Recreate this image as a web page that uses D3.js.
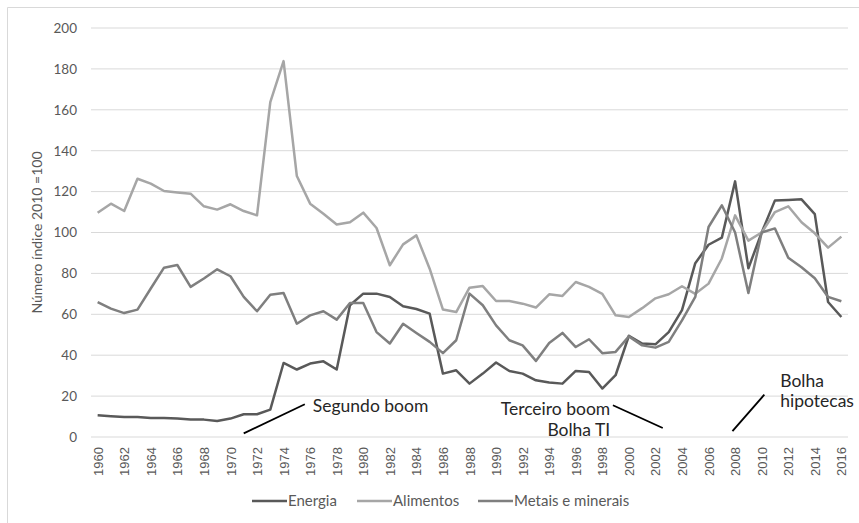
<!DOCTYPE html>
<html>
<head>
<meta charset="utf-8">
<script src="https://cdn.jsdelivr.net/npm/d3@7"></script>
<style>
  body { margin: 0; background: #fff; }
  svg text { font-family: Lato, "Open Sans", sans-serif; fill: #595959; }
</style>
</head>
<body>
<div id="chart"></div>
<script>
// Years on the category axis
var years = d3.range(1960, 2017);

// Series values (index 2010 = 100)
var energia = [10.6, 10.2, 9.8, 9.8, 9.3, 9.3, 9.0, 8.5, 8.5, 7.8,
  9.0, 11.1, 11.1, 13.4, 36.2, 33.0, 35.9, 37.0, 33.0, 64.4,
  70.1, 70.1, 68.5, 63.9, 62.6, 60.3, 31.0, 32.6, 26.1, 31.0,
  36.4, 32.3, 31.0, 27.7, 26.6, 26.1, 32.3, 31.8, 23.7, 30.2,
  49.5, 45.7, 45.3, 51.3, 62.0, 85.0, 94.0, 97.5, 125.0, 82.5,
  100, 115.7, 115.9, 116.2, 109.0, 66.0, 58.7];

var alimentos = [109.7, 114.1, 110.5, 126.3, 123.9, 120.3, 119.6, 119.0, 112.8, 111.2,
  113.8, 110.5, 108.4, 163.7, 183.8, 127.6, 114.1, 109.2, 103.9, 105.0,
  109.7, 102.2, 84.0, 94.2, 98.6, 82.3, 62.3, 61.1, 73.0, 73.8,
  66.5, 66.5, 65.2, 63.3, 69.8, 69.0, 75.8, 73.4, 70.0, 59.5,
  58.7, 63.0, 67.8, 69.8, 73.7, 70.0, 75.0, 87.3, 108.4, 96.0,
  100, 110.0, 112.8, 105.0, 99.6, 92.6, 98.0];

var metais = [66.0, 62.8, 60.6, 62.3, 72.6, 82.8, 84.1, 73.4, 77.5, 82.0,
  78.6, 68.5, 61.5, 69.6, 70.4, 55.4, 59.5, 61.5, 57.4, 65.5,
  65.5, 51.3, 45.7, 55.4, 50.9, 46.5, 41.0, 47.3, 70.1, 64.4,
  54.6, 47.3, 44.8, 37.2, 46.0, 50.9, 44.0, 47.8, 41.0, 41.6,
  49.2, 44.8, 43.7, 46.5, 57.0, 68.5, 102.7, 113.3, 100.0, 70.4,
  100, 102.0, 87.7, 83.0, 77.6, 68.5, 66.4];

var seriesNames = ["Energia", "Alimentos", "Metais e minerais"];
var seriesColors = ["#595959", "#a6a6a6", "#7f7f7f"];
var yTicks = [0, 20, 40, 60, 80, 100, 120, 140, 160, 180, 200];
var xTickYears = d3.range(1960, 2017, 2);

// Annotations, in data units (year, value)
var annLines = [
  [[1971.0, 1.8], [1975.6, 16.0]],
  [[1998.8, 15.5], [2002.55, 4.4]],
  [[2007.8, 2.9], [2010.2, 20.7]]
];
var annTexts = [
  {year: 1976.2, value: 12.0, text: "Segundo boom", anchor: "start"},
  {year: 1998.6, value: 11.0, text: "Terceiro boom", anchor: "end"},
  {year: 1998.6, value: 0.3, text: "Bolha TI", anchor: "end"},
  {year: 2011.4, value: 24.3, text: "Bolha", anchor: "start"},
  {year: 2011.4, value: 14.5, text: "hipotecas", anchor: "start"}
];

var W = 859, H = 523;
var plot = {left: 91, right: 848, top: 28, bottom: 437};

var svg = d3.select("#chart").append("svg")
  .attr("width", W)
  .attr("height", H);

// outer frame (only top and left edges are inside the picture)
svg.append("path")
  .attr("d", "M7.5," + H + "V7.5H" + W)
  .attr("fill", "none")
  .attr("stroke", "#d9d9d9");

var x = d3.scalePoint().domain(years).range([plot.left, plot.right]).padding(0.5);
var y = d3.scaleLinear().domain([0, 200]).range([plot.bottom, plot.top]);

// continuous year scale for annotations
var xc = d3.scaleLinear().domain([1960, 2016]).range([x(1960), x(2016)]);

// gridlines
svg.append("g")
  .selectAll("line")
  .data(yTicks)
  .enter().append("line")
  .attr("x1", plot.left).attr("x2", plot.right)
  .attr("y1", function(d) { return y(d); })
  .attr("y2", function(d) { return y(d); })
  .attr("stroke", "#d9d9d9")
  .attr("stroke-width", 1);

// Y axis labels
var yAxis = svg.append("g")
  .attr("transform", "translate(" + (plot.left - 14) + ",0)")
  .call(d3.axisLeft(y).tickValues(yTicks).tickSize(0).tickPadding(0));
yAxis.select(".domain").remove();
yAxis.selectAll("text")
  .style("font-size", "13.5px")
  .attr("fill", "#595959");

// X axis labels (rotated)
var xAxis = svg.append("g")
  .attr("transform", "translate(0," + (plot.bottom + 10) + ")")
  .call(d3.axisBottom(x).tickValues(xTickYears).tickSize(0).tickPadding(0));
xAxis.select(".domain").remove();
xAxis.selectAll("text")
  .style("font-size", "13px")
  .style("font-family", "'Liberation Sans', Arial, sans-serif")
  .attr("fill", "#595959")
  .attr("transform", "rotate(-90)")
  .attr("text-anchor", "end")
  .attr("x", 0)
  .attr("y", 0)
  .attr("dy", "0.35em");

// Y axis title
svg.append("text")
  .attr("transform", "translate(42," + ((plot.top + plot.bottom) / 2) + ") rotate(-90)")
  .attr("text-anchor", "middle")
  .style("font-size", "14px")
  .text("Número índice 2010 =100");

// Lines
var line = d3.line()
  .x(function(d, i) { return x(years[i]); })
  .y(function(d) { return y(d); });

[energia, alimentos, metais].forEach(function(s, i) {
  svg.append("path")
    .datum(s)
    .attr("fill", "none")
    .attr("stroke", seriesColors[i])
    .attr("stroke-width", 2.5)
    .attr("stroke-linejoin", "round")
    .attr("d", line);
});

// Annotations
svg.append("g")
  .selectAll("line")
  .data(annLines)
  .enter().append("line")
  .attr("x1", function(d) { return xc(d[0][0]); })
  .attr("y1", function(d) { return y(d[0][1]); })
  .attr("x2", function(d) { return xc(d[1][0]); })
  .attr("y2", function(d) { return y(d[1][1]); })
  .attr("stroke", "#000")
  .attr("stroke-width", 1.8);

svg.append("g")
  .selectAll("text")
  .data(annTexts)
  .enter().append("text")
  .attr("x", function(d) { return xc(d.year); })
  .attr("y", function(d) { return y(d.value); })
  .attr("text-anchor", function(d) { return d.anchor; })
  .style("font-size", "17.5px")
  .style("fill", "#262626")
  .text(function(d) { return d.text; });

// Legend
var legendX = [252, 357, 478];
var legend = svg.append("g")
  .selectAll("g")
  .data(seriesNames)
  .enter().append("g")
  .attr("transform", function(d, i) { return "translate(" + legendX[i] + ",501)"; });
legend.append("line")
  .attr("x1", 0).attr("x2", 35)
  .attr("stroke", function(d, i) { return seriesColors[i]; })
  .attr("stroke-width", 2.5);
legend.append("text")
  .attr("x", 36)
  .attr("dy", "0.35em")
  .style("font-size", "15px")
  .text(function(d) { return d; });
</script>
</body>
</html>
